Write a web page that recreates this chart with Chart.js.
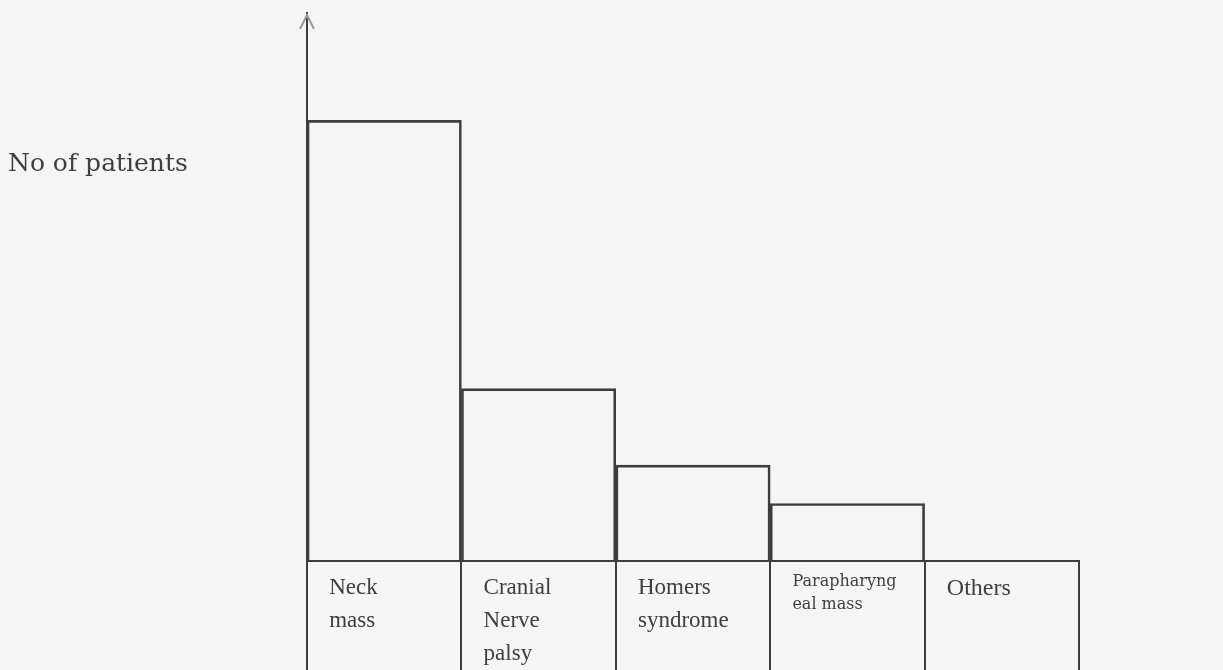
<!DOCTYPE html>
<html>
<head>
<meta charset="utf-8">
<script src="https://cdn.jsdelivr.net/npm/chart.js@4/dist/chart.umd.min.js"></script>
<style>
  html, body { margin: 0; padding: 0; background: #f5f5f5; }
  #wrap { width: 1223px; height: 670px; position: relative; }
</style>
</head>
<body>
<div id="wrap"><canvas id="c" width="1223" height="670"></canvas></div>
<script>
const categories = [
  ["Neck", "mass"],
  ["Cranial", "Nerve", "palsy"],
  ["Homers", "syndrome"],
  ["Parapharyng", "eal mass"],
  ["Others"]
];
const patients = [23, 9, 5, 3, 0];
const yAxisTitle = "No of patients";
const yMax = 28.6;

const lineColor = '#3d3d3d';
const textColor = '#3f3f3f';

const extras = {
  id: 'extras',
  afterDraw(chart) {
    const ctx = chart.ctx;
    const a = chart.chartArea;
    ctx.save();
    // y-axis title (horizontal, left side)
    ctx.fillStyle = textColor;
    ctx.font = '25px "DejaVu Serif"';
    ctx.textAlign = 'left';
    ctx.textBaseline = 'alphabetic';
    ctx.fillText(yAxisTitle, 8, 171);
    // faint arrowhead on top of y-axis
    ctx.strokeStyle = '#9a9a9a';
    ctx.lineWidth = 2;
    ctx.beginPath();
    ctx.moveTo(a.left - 7, a.top + 16);
    ctx.lineTo(a.left, a.top + 2);
    ctx.lineTo(a.left + 7, a.top + 16);
    ctx.stroke();
    ctx.restore();
  }
};

new Chart(document.getElementById('c'), {
  type: 'bar',
  data: {
    labels: categories,
    datasets: [{
      data: patients,
      backgroundColor: 'rgba(0,0,0,0)',
      borderColor: lineColor,
      borderWidth: 2,
      borderSkipped: 'start',
      barPercentage: 1,
      categoryPercentage: 1
    }]
  },
  options: {
    responsive: false,
    animation: false,
    layout: { padding: { left: 307, right: 144, top: 13, bottom: 0 } },
    plugins: { legend: { display: false }, tooltip: { enabled: false }, title: { display: false } },
    scales: {
      x: {
        type: 'category',
        offset: true,
        afterFit: s => { s.height = 109; },
        border: { display: true, color: lineColor, width: 2 },
        grid: {
          display: true,
          offset: true,
          drawOnChartArea: false,
          drawTicks: true,
          tickLength: 109,
          color: lineColor,
          lineWidth: 2
        },
        ticks: {
          color: textColor,
          align: 'start',
          labelOffset: -55,
          padding: -99,
          maxRotation: 0,
          autoSkip: false,
          font: (ctx) => {
            if (ctx.index === 3) return { family: '"DejaVu Serif"', size: 16, lineHeight: 1.4 };
            if (ctx.index === 4) return { family: '"Liberation Serif"', size: 24, lineHeight: 1.45 };
            return { family: '"Liberation Serif"', size: 23, lineHeight: 1.45 };
          }
        }
      },
      y: {
        min: 0,
        max: yMax,
        afterFit: s => { s.width = 0; },
        border: { display: true, color: lineColor, width: 2 },
        grid: { display: false },
        ticks: { display: false }
      }
    }
  },
  plugins: [extras]
});
</script>
</body>
</html>
